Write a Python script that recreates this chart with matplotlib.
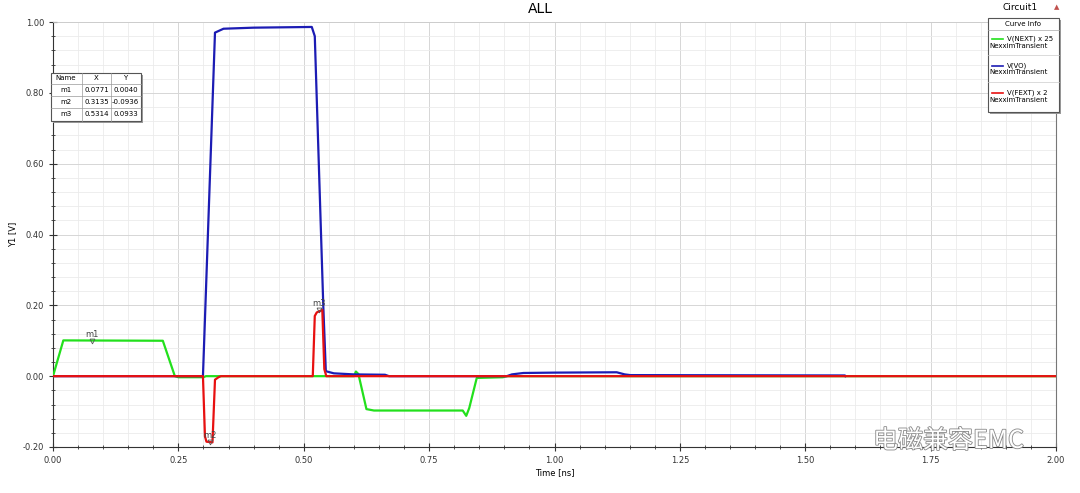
import matplotlib
matplotlib.use("Agg")
import matplotlib.pyplot as plt
from matplotlib.ticker import MultipleLocator, FormatStrFormatter
import matplotlib.patheffects as pe

plt.rcParams['font.family'] = ['DejaVu Sans']

# curve breakpoints (time in ns, value in V, already scaled)
next_t = [0, 0.0206, 0.219, 0.243, 0.25, 0.30, 0.305, 0.54, 0.60, 0.604, 0.609,
          0.625, 0.64, 0.817, 0.824, 0.83, 0.845, 0.897, 0.905, 2.0]
next_v = [0, 0.101, 0.100, 0.0, -0.003, -0.003, 0, 0, 0, 0.013, 0.006,
          -0.093, -0.097, -0.097, -0.112, -0.09, -0.005, -0.003, 0, 0]

vo_t = [0, 0.299, 0.323, 0.34, 0.40, 0.516, 0.522, 0.539, 0.544, 0.56, 0.60, 0.662,
        0.67, 0.905, 0.915, 0.938, 1.0, 1.124, 1.14, 1.151, 1.579, 1.58]
vo_v = [0, 0, 0.970, 0.981, 0.984, 0.986, 0.960, 0.197, 0.014, 0.008, 0.005, 0.004,
        0, 0, 0.005, 0.009, 0.010, 0.011, 0.005, 0.003, 0.002, 0]

fext_t = [0, 0.299, 0.303, 0.306, 0.318, 0.323, 0.33, 0.335, 0.518, 0.522, 0.526,
          0.537, 0.541, 0.545, 2.0]
fext_v = [0, 0, -0.17, -0.185, -0.187, -0.01, -0.003, 0, 0, 0.17, 0.18,
          0.187, 0.02, 0, 0]

curve_names = ["V(NEXT) x 25", "V(VO)", "V(FEXT) x 2"]
curve_colors = ["#22e01c", "#1c1cb4", "#e81010"]

marker_names = ["m1", "m2", "m3"]
marker_x = [0.0771, 0.3135, 0.5314]
marker_y = [0.0040, -0.0936, 0.0933]
marker_scale = [25, 2, 2]

fig = plt.figure(figsize=(10.8, 4.93), dpi=100)
ax = fig.add_axes([53 / 1080, 1 - 447 / 493, 1003 / 1080, 425 / 493])

ax.plot(next_t, next_v, color=curve_colors[0], lw=1.6, zorder=3)
ax.plot(vo_t, vo_v, color=curve_colors[1], lw=1.6, zorder=4)
ax.plot(fext_t, fext_v, color=curve_colors[2], lw=1.6, zorder=5)

for name, mx, my, sc in zip(marker_names, marker_x, marker_y, marker_scale):
    y = my * sc
    ax.plot([mx], [y], marker="v", ms=3.5, mfc="none", mec="#555555", mew=0.6, zorder=6)
    ax.text(mx, y + 0.006, name, fontsize=6, color="#444444", ha="center", va="bottom", zorder=6)

ax.set_xlim(0, 2.0)
ax.set_ylim(-0.2, 1.0)
ax.xaxis.set_major_locator(MultipleLocator(0.25))
ax.xaxis.set_minor_locator(MultipleLocator(0.05))
ax.yaxis.set_major_locator(MultipleLocator(0.2))
ax.yaxis.set_minor_locator(MultipleLocator(0.04))
ax.xaxis.set_major_formatter(FormatStrFormatter("%.2f"))
ax.yaxis.set_major_formatter(FormatStrFormatter("%.2f"))
ax.tick_params(which="major", direction="inout", length=6, width=0.8, labelsize=6, colors="#333333")
ax.tick_params(which="minor", direction="inout", length=3, width=0.6, colors="#333333")
ax.grid(which="major", color="#d6d6d6", lw=0.7, zorder=0)
ax.grid(which="minor", color="#ebebeb", lw=0.6, zorder=0)
ax.set_axisbelow(True)
ax.spines["top"].set_color("#cccccc")
ax.spines["top"].set_linewidth(0.6)
ax.spines["right"].set_color("#777777")
ax.spines["right"].set_linewidth(0.8)
for s in ["left", "bottom"]:
    ax.spines[s].set_color("#333333")
    ax.spines[s].set_linewidth(0.8)
ax.set_xlabel("Time [ns]", fontsize=6, labelpad=2)
ax.set_ylabel("Y1 [V]", fontsize=6, labelpad=4)

fig.text(0.5, 1 - 9 / 493, "ALL", fontsize=10, ha="center", va="center")
fig.text(1038 / 1080, 1 - 8 / 493, "Circuit1", fontsize=6.5, ha="right", va="center")
fig.text(1057 / 1080, 1 - 7 / 493, "▲", fontsize=5, color="#c0504d", ha="center", va="center")


def boxed_axes(px_left, px_top, w, h):
    a = fig.add_axes([px_left / 1080, 1 - (px_top + h + 3) / 493, (w + 3) / 1080, (h + 3) / 493])
    a.set_xlim(0, w + 3)
    a.set_ylim(h + 3, 0)
    a.axis("off")
    a.add_patch(plt.Rectangle((2.5, 2.5), w, h, facecolor="#9a9a9a", edgecolor="none", clip_on=False))
    a.add_patch(plt.Rectangle((0.5, 0.5), w, h, facecolor="white", edgecolor="#555555", lw=0.8, clip_on=False))
    return a


# marker table
tab = boxed_axes(50, 72, 90, 48)
for xx in [32, 61]:
    tab.plot([xx, xx], [0.5, 48.5], color="#999999", lw=0.5)
for yy in [12, 24, 36]:
    tab.plot([0.5, 90.5], [yy, yy], color="#999999", lw=0.5)
hdr = ["Name", "X", "Y"]
cx = [16, 46.5, 75.5]
for h, c in zip(hdr, cx):
    tab.text(c, 6.5, h, fontsize=5, ha="center", va="center")
for i, (name, mx, my) in enumerate(zip(marker_names, marker_x, marker_y)):
    yc = 18.5 + 12 * i
    tab.text(cx[0], yc, name, fontsize=5, ha="center", va="center")
    tab.text(cx[1], yc, f"{mx:.4f}", fontsize=5, ha="center", va="center")
    tab.text(cx[2], yc, f"{my:.4f}", fontsize=5, ha="center", va="center")

# curve info box
leg = boxed_axes(987, 17, 71, 94)
leg.text(36, 6.5, "Curve Info", fontsize=5, ha="center", va="center")
leg.plot([0.5, 71.5], [12.5, 12.5], color="#aaaaaa", lw=0.5)
for i, (name, col) in enumerate(zip(curve_names, curve_colors)):
    y0 = 21.5 + 27 * i
    leg.plot([5, 16], [y0, y0], color=col, lw=1.2)
    leg.text(20, y0, name, fontsize=5, ha="left", va="center")
    leg.text(2.5, y0 + 7, "NexximTransient", fontsize=5, ha="left", va="center")
    if i < 2:
        leg.plot([0.5, 71.5], [y0 + 16, y0 + 16], color="#cccccc", lw=0.5)

# watermark
fig.text(873 / 1080, 1 - 441 / 493, "电磁兼容EMC", fontsize=18, color="white",
         family=["Noto Sans CJK SC", "DejaVu Sans"], ha="left", va="center",
         path_effects=[pe.withStroke(linewidth=1.2, foreground="#888888")], zorder=10)

fig.savefig("out.png", dpi=100, facecolor="white")
